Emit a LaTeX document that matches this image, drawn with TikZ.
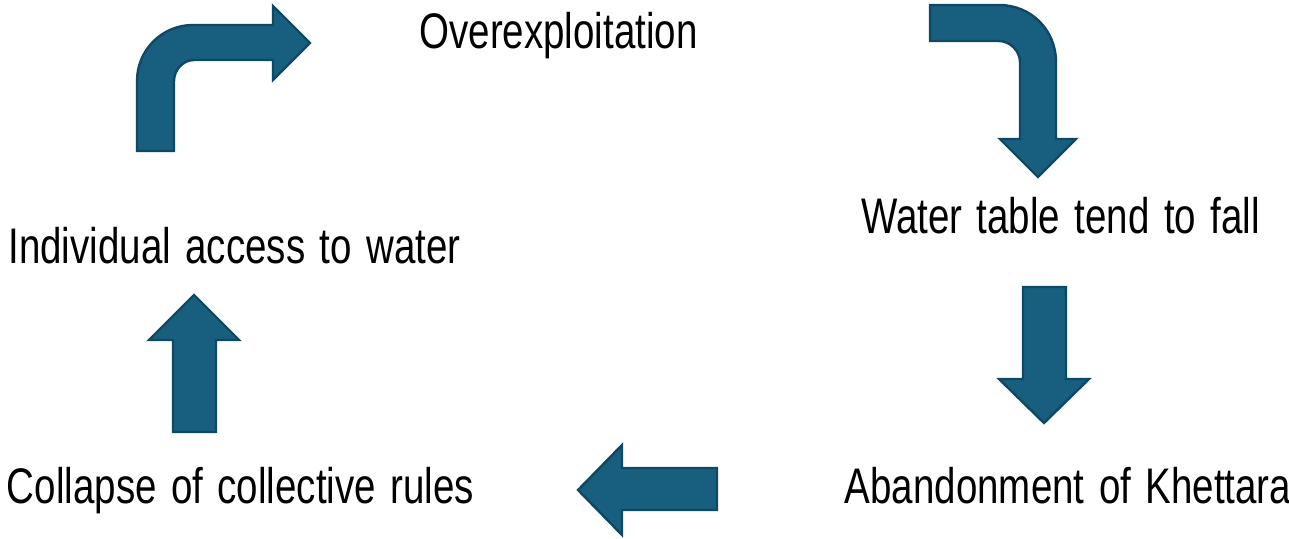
\documentclass[tikz,border=0pt]{standalone}
\usepackage{fontspec}
\setmainfont[FakeStretch=0.77,WordSpace=1.35]{Liberation Sans}
\definecolor{arrowfill}{HTML}{175E7F}
\definecolor{arrowline}{HTML}{0F4862}
\tikzset{
  blockarrow/.style={fill=arrowfill, draw=arrowline, line width=2.4pt, line join=miter},
  label/.style={anchor=base, inner sep=0pt, font=\fontsize{50}{60}\selectfont}
}
\begin{document}
\begin{tikzpicture}[x=1pt,y=-1pt]
\useasboundingbox (0,0) rectangle (1289,538);
% texts
\node[label] (over) at (558.5,48) {Overexploitation};
\node[label] (water) at (1060.5,233) {Water table tend to fall};
\node[label] (indiv) at (234.5,263) {Individual access to water};
\node[label] (coll) at (240.5,503) {Collapse of collective rules};
\node[label] (aband) at (1068,503) {Abandonment of Khettara};
% bent arrow up-right
\draw[blockarrow] (137,151) -- (137,81) .. controls (137,50) and (162,25) .. (193,25) -- (273,25) -- (273,6) -- (310,43) -- (273,80) -- (273,60) -- (194,60) .. controls (183,60) and (174,70) .. (174,81) -- (174,151) -- cycle;
% bent arrow right-down
\draw[blockarrow] (930,5) -- (999,5) .. controls (1031,5) and (1056,30) .. (1056,62) -- (1056,139) -- (1076,139) -- (1038,177) -- (1000,139) -- (1020,139) -- (1020,62) .. controls (1020,51) and (1010,41) .. (999,41) -- (930,41) -- cycle;
% down arrow
\draw[blockarrow] (1023,287) -- (1066,287) -- (1066,379) -- (1089,379) -- (1044,423) -- (999,379) -- (1023,379) -- cycle;
% up arrow
\draw[blockarrow] (173,432) -- (173,340) -- (149,340) -- (194,295) -- (239,340) -- (216,340) -- (216,432) -- cycle;
% left arrow
\draw[blockarrow] (717,468) -- (622,468) -- (622,445) -- (578,490) -- (622,535) -- (622,510) -- (717,510) -- cycle;
\end{tikzpicture}
\end{document}
